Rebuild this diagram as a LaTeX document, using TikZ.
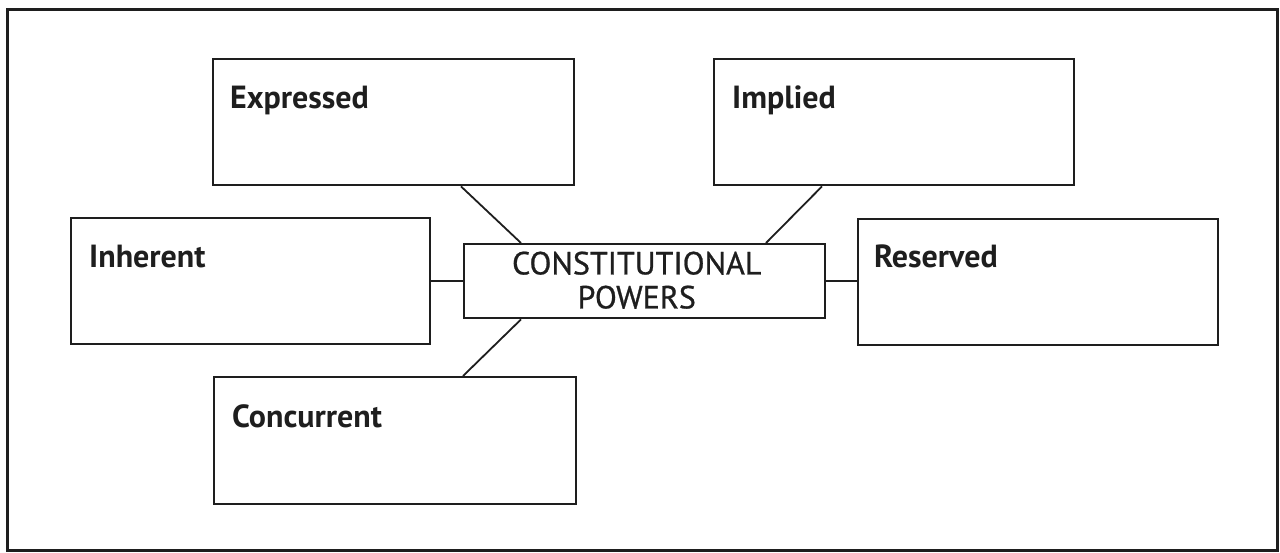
\documentclass[tikz,border=0pt]{standalone}
\usepackage{fontspec}
\setmainfont{PT Sans}
\newfontfamily\cpfont[FakeBold=0.8]{PT Sans}
\usetikzlibrary{calc}
\definecolor{ink}{HTML}{1E1E1E}
\tikzset{
  box/.style={draw=ink, line width=2.4pt, inner sep=0pt, anchor=north west, minimum height=126pt},
  lbl/.style={anchor=base west, inner sep=0pt, text=ink, font=\fontsize{32}{34}\selectfont\bfseries},
  link/.style={draw=ink, line width=1.8pt},
}
\begin{document}
\begin{tikzpicture}[x=1pt,y=-1pt]
\useasboundingbox (0,0) rectangle (1280,552);
\draw[ink, line width=3pt] (7,9) rectangle (1277,550);
% boxes
\node[box, minimum width=361pt] (expr) at (212,58) {};
\node[box, minimum width=360pt] (impl) at (713,58) {};
\node[box, minimum width=359pt] (inh) at (70,217) {};
\node[box, minimum width=360pt] (res) at (857,218) {};
\node[box, minimum width=362pt, minimum height=127pt] (conc) at (213,376) {};
\node[box, minimum width=361pt, minimum height=74pt] (cp) at (463,243) {};
% labels
\node[lbl] (exprT) at ($(expr.north west)+(18,50)$) {Expressed};
\node[lbl] (implT) at ($(impl.north west)+(19,50)$) {Implied};
\node[lbl] (inhT) at ($(inh.north west)+(19,50)$) {Inherent};
\node[lbl] (resT) at ($(res.north west)+(17,49)$) {Reserved};
\node[lbl] (concT) at ($(conc.north west)+(19,51)$) {Concurrent};
\node[align=center, inner sep=0pt, text=ink, font=\cpfont\fontsize{32}{34}\selectfont] (cpT) at ($(cp.center)+(-8,-1)$) {CONSTITUTIONAL\\POWERS};
% connectors
\coordinate (e1) at ($(expr.south west)+(249,0)$);
\coordinate (e2) at ($(cp.north west)+(58,0)$);
\draw[link] (e1) -- (e2);
\coordinate (i1) at ($(impl.south west)+(109,0)$);
\coordinate (i2) at ($(cp.north west)+(303,0)$);
\draw[link] (i1) -- (i2);
\coordinate (c1) at ($(cp.south west)+(58,0)$);
\coordinate (c2) at ($(conc.north west)+(250,0)$);
\draw[link] (c1) -- (c2);
\draw[link] (inh.east |- cp.west) -- (cp.west);
\draw[link] (cp.east) -- (res.west |- cp.east);
\end{tikzpicture}
\end{document}
